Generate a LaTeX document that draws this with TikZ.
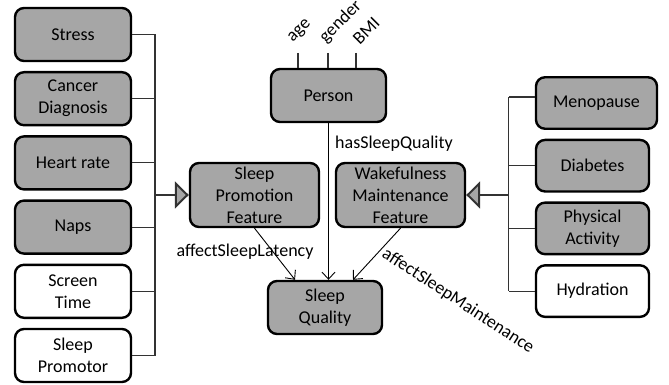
\documentclass[tikz,border=0pt]{standalone}
\usepackage{fontspec}
\setmainfont{Carlito}
\usetikzlibrary{arrows.meta,positioning,calc}

\begin{document}
\begin{tikzpicture}[x=1pt,y=-1pt]
    \newcommand{\spacing}[0]{ 8.8pt }
    \tikzstyle{entity}=[
      draw=black,
      fill=black!35,
      line width=2.4pt,
      rounded corners=9pt,
      align=center,
      inner sep=0pt,
      font=\fontsize{18}{22}\selectfont,
      minimum width=116pt,
      minimum height=53pt
    ]
    \tikzstyle{blank}=[fill=white]
    \tikzstyle{feature}=[minimum width=129pt, minimum height=64pt]
    \tikzstyle{edgetext}=[font=\fontsize{18}{22}\selectfont, inner sep=1pt]
    \tikzstyle{link}=[line width=1.1pt, draw=black!80]
    \tikzstyle{isa}=[link, -{Triangle[length=14pt,width=27pt,fill=black!35,line width=2pt]}]
    \tikzstyle{rel}=[line width=0.9pt, draw=black, -{Straight Barb[length=7pt,width=13pt]}]

    \useasboundingbox (0,0) rectangle (669,385);

    % left column
    \node[entity] (stress) at (73,34.5) {Stress};
    \node[entity, anchor=north] (cancer) at ([yshift=-\spacing]stress.south) {Cancer\\Diagnosis};
    \node[entity, anchor=north] (heart) at ([yshift=-\spacing]cancer.south) {Heart rate};
    \node[entity, anchor=north] (naps) at ([yshift=-\spacing]heart.south) {Naps};
    \node[entity, blank, anchor=north] (screen) at ([yshift=-\spacing]naps.south) {Screen\\Time};
    \node[entity, blank, anchor=north] (promotor) at ([yshift=-\spacing]screen.south) {Sleep\\Promotor};

    % middle
    \node[entity, feature] (promotion) at (254.5,195) {Sleep\\Promotion\\Feature};
    \node[entity, feature, right=14.6pt of promotion] (wakefulness) {Wakefulness\\Maintenance\\Feature};
    \node[entity, minimum width=115pt] (person) at (328.5,95.5) {Person};
    \node[entity, minimum width=114pt] (quality) at (325,307.5) {Sleep\\Quality};

    % right column
    \node[entity, minimum width=121pt, minimum height=51.5pt] (menopause) at (596.5,103) {Menopause};
    \node[entity, minimum width=113pt, minimum height=51.5pt, anchor=north west] (diabetes) at ([yshift=-\spacing]menopause.south west) {Diabetes};
    \node[entity, minimum width=113pt, minimum height=51.5pt, anchor=north] (activity) at ([yshift=-\spacing]diabetes.south) {Physical\\Activity};
    \node[entity, blank, minimum width=113pt, minimum height=51.5pt, anchor=north] (hydration) at ([yshift=-\spacing]activity.south) {Hydration};

    % attributes of person
    \coordinate (age) at (298,53);
    \coordinate (gender) at (328,53);
    \coordinate (bmi) at (356,53);
    \foreach \a in {age,gender,bmi}
      \draw[link] (\a) -- (\a |- person.north);
    \node[edgetext, rotate=45, anchor=base west] (age label) at (292,43) {age};
    \node[edgetext, rotate=45, anchor=base west] (gender label) at (325,44) {gender};
    \node[edgetext, rotate=45, anchor=base west] (bmi label) at (359,46) {BMI};

    % generalisation, left
    \coordinate (left bus) at (155,0);
    \foreach \n in {stress,cancer,heart,naps,screen,promotor}
      \draw[link] (\n.east) -- (\n.east -| left bus);
    \draw[link] (stress.east -| left bus) -- (promotor.east -| left bus);
    \draw[isa] (left bus |- promotion.west) -- (promotion.west);

    % generalisation, right
    \coordinate (right bus) at (508.5,0);
    \draw[link] ([yshift=6pt]menopause.west) -- ([yshift=6pt]menopause.west -| right bus);
    \foreach \n in {diabetes,activity,hydration}
      \draw[link] (\n.west) -- (\n.west -| right bus);
    \draw[link] ([yshift=6pt]menopause.west -| right bus) -- (hydration.west -| right bus);
    \draw[isa] (right bus |- wakefulness.east) -- (wakefulness.east);

    % relations
    \draw[rel] (person.south) -- (person.south |- quality.north);
    \draw[rel] (promotion.south) -- ([xshift=-30pt]quality.north);
    \draw[rel] (wakefulness.south) -- ([xshift=28pt]quality.north);
    \node[edgetext, anchor=west] (has quality) at (334,144) {hasSleepQuality};
    \node[edgetext] (latency label) at (245,252) {affectSleepLatency};
    \node[edgetext, rotate=-33] (maintenance label) at (458,301) {affectSleepMaintenance};
\end{tikzpicture}
\end{document}
